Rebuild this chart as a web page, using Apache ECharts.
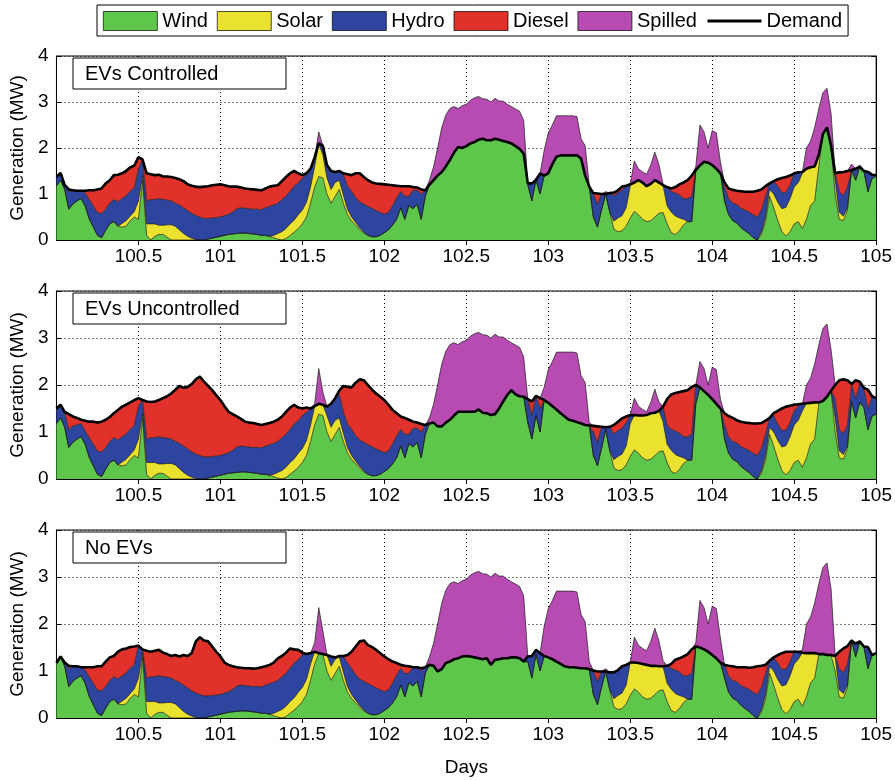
<!DOCTYPE html>
<html>
<head>
<meta charset="utf-8">
<script src="https://cdn.jsdelivr.net/npm/echarts@6/dist/echarts.min.js"></script>
<style>
html, body { margin: 0; padding: 0; background: #fff; }
#chart { width: 895px; height: 780px; }
</style>
</head>
<body>
<div id="chart"></div>
<script>
// Sampling grid: day 100.000 to 105.000 every 0.025 day (201 samples)
const DAY_START = 100;
const DAY_STEP = 0.025;

// Available wind generation (MW)
const wind = [
1.18,1.3,1.1,0.67,0.78,0.85,0.9,0.74,0.46,0.28,0.1,0.05,0.21,0.35,0.4,0.3,0.28,0.3,0.42,0.5,
0.45,1.3,0.1,0,0.08,0.12,0.12,0.06,0,0,0,0,0,0,0,0,0,0.02,0.04,0.06,
0.08,0.1,0.12,0.13,0.14,0.15,0.15,0.14,0.13,0.12,0.1,0.1,0.08,0.05,0.02,0,0.03,0.1,0.17,0.25,
0.35,0.5,0.8,1.15,1.38,1.35,1.0,0.8,0.95,1.1,0.8,0.55,0.42,0.32,0.22,0.15,0.1,0.07,0.07,0.1,
0.16,0.22,0.32,0.45,0.7,0.45,0.75,0.68,0.78,0.45,0.95,1.3,1.59,2.0,2.44,2.72,2.86,2.9,2.86,2.92,
2.95,3.04,3.09,3.12,3.07,3.06,3.0,3.08,3.02,3.02,2.95,2.9,2.85,2.8,2.6,1.2,0.85,1.35,1.0,1.95,
2.33,2.5,2.7,2.7,2.7,2.7,2.7,2.68,2.2,2.05,1.2,0.5,0.28,0.65,1.05,0.6,0.24,0.18,0.2,0.3,
0.48,0.62,0.55,0.45,0.4,0.42,0.5,0.58,0.6,0.35,0.16,0.12,0.2,0.33,0.4,0.4,1.6,2.5,2.35,2.0,
2.38,2.33,1.7,0.85,0.55,0.42,0.37,0.27,0.2,0.14,0.05,0,0.12,0.4,0.95,0.7,0.42,0.18,0.09,0.18,
0.35,0.4,0.25,0.45,0.75,0.85,1.6,2.3,2.5,2.0,1.0,0.45,0.42,0.65,1.65,1.3,1.63,1.52,1.05,1.34,
1.38
];

// Available solar generation (MW)
const solar = [
0,0,0,0,0,0,0,0,0,0,0,0,0,0,0,0,0.08,0.12,0.1,0.12,
0.4,0.1,0.25,0.35,0.27,0.2,0.2,0.27,0.33,0.3,0.22,0.14,0.08,0.04,0.01,0,0,0,0,0,
0,0,0,0,0,0,0,0,0,0,0,0,0,0.05,0.12,0.18,0.22,0.25,0.26,0.3,
0.3,0.32,0.35,0.45,0.97,0.5,0.35,0.3,0.3,0.2,0.18,0.12,0.08,0.06,0.04,0.02,0,0,0,0,
0,0,0,0,0,0,0,0,0,0,0,0,0,0,0,0,0,0,0,0,
0,0,0,0,0,0,0,0,0,0,0,0,0,0,0,0,0,0,0,0,
0,0,0,0,0,0,0,0,0,0,0,0,0,0,0,0,0.17,0.3,0.33,0.4,
0.7,1.1,1.0,1.03,1.03,1.21,1.41,1.06,0.62,0.39,0.45,0.4,0.28,0.12,0,0,0,0,0,0,
0,0,0,0,0,0,0,0,0,0,0,0,0.05,0.1,0.15,0.3,0.4,0.5,0.62,0.72,
0.8,0.85,1.2,1.55,1.4,1.6,1.25,0.9,0.8,0.75,0.3,0.15,0.1,0.05,0,0,0,0,0,0,
0
];

// Available hydro generation (MW)
const hydro = [
0.3,0.3,0.32,0.38,0.35,0.3,0.28,0.28,0.42,0.46,0.5,0.52,0.46,0.45,0.48,0.53,0.54,0.54,0.54,0.52,
0.7,0.4,0.5,0.53,0.53,0.58,0.56,0.54,0.52,0.5,0.54,0.56,0.56,0.54,0.52,0.5,0.47,0.45,0.44,0.43,
0.42,0.43,0.44,0.48,0.54,0.55,0.54,0.54,0.54,0.55,0.56,0.6,0.65,0.66,0.66,0.7,0.7,0.71,0.74,0.69,
0.7,0.6,0.5,0.5,0.5,0.5,0.5,0.5,0.5,0.5,0.45,0.5,0.56,0.54,0.57,0.61,0.63,0.62,0.57,0.5,
0.4,0.38,0.42,0.47,0.35,0.5,0.2,0.4,0.3,0.55,0.2,0.5,0.5,0.5,0.5,0.5,0.5,0.5,0.5,0.5,
0.5,0.5,0.5,0.5,0.5,0.5,0.5,0.5,0.5,0.5,0.5,0.5,0.5,0.5,0.5,0.5,0.5,0.5,0.5,0.5,
0.5,0.5,0.5,0.5,0.5,0.5,0.5,0.5,0.5,0.5,0.5,0.5,0.5,0.45,0.4,0.5,0.55,0.55,0.55,0.5,
0.5,0.45,0.45,0.45,0.45,0.45,0.45,0.45,0.45,0.4,0.45,0.5,0.5,0.45,0.5,0.55,0.5,0.5,0.5,0.5,
0.5,0.5,0.5,0.3,0.35,0.38,0.4,0.42,0.45,0.47,0.5,0.5,0.48,0.45,0.35,0.35,0.35,0.35,0.33,0.3,
0.3,0.3,0.35,0.35,0.35,0.35,0.35,0.35,0.35,0.35,0.4,0.45,0.45,0.45,0.4,0.4,0.4,0.4,0.45,0.4,
0.4
];

// Demand (MW) in each scenario
const demandControlled = [
1.37,1.46,1.2,1.1,1.08,1.07,1.07,1.07,1.08,1.08,1.1,1.12,1.23,1.3,1.41,1.42,1.45,1.5,1.58,1.62,
1.8,1.75,1.45,1.43,1.41,1.42,1.38,1.38,1.37,1.35,1.32,1.28,1.21,1.18,1.16,1.15,1.16,1.17,1.19,1.2,
1.21,1.19,1.17,1.16,1.16,1.14,1.12,1.11,1.1,1.09,1.08,1.12,1.16,1.18,1.19,1.28,1.37,1.45,1.5,1.45,
1.41,1.45,1.55,1.8,2.1,2.05,1.63,1.5,1.48,1.5,1.45,1.43,1.41,1.45,1.45,1.37,1.3,1.25,1.23,1.22,
1.21,1.2,1.19,1.18,1.17,1.17,1.17,1.15,1.14,1.1,1.08,1.2,1.3,1.4,1.48,1.6,1.74,1.9,2.02,2.0,
2.04,2.1,2.13,2.18,2.2,2.17,2.17,2.2,2.18,2.15,2.13,2.1,2.04,1.98,1.88,1.23,1.23,1.3,1.45,1.4,
1.45,1.65,1.81,1.84,1.84,1.84,1.84,1.84,1.77,1.4,1.16,1.02,1.01,1.0,1.0,1.02,1.03,1.08,1.16,1.18,
1.21,1.25,1.3,1.25,1.17,1.22,1.3,1.25,1.19,1.15,1.12,1.15,1.21,1.25,1.3,1.4,1.52,1.62,1.7,1.68,
1.63,1.55,1.45,1.25,1.12,1.09,1.07,1.06,1.05,1.05,1.05,1.07,1.1,1.17,1.23,1.28,1.32,1.35,1.37,1.4,
1.45,1.47,1.48,1.55,1.58,1.6,1.85,2.3,2.45,2.05,1.45,1.47,1.48,1.5,1.52,1.55,1.59,1.5,1.48,1.42,
1.41
];

const demandUncontrolled = [
1.5,1.58,1.43,1.38,1.33,1.3,1.26,1.24,1.22,1.22,1.2,1.22,1.26,1.32,1.4,1.47,1.54,1.58,1.63,1.68,
1.72,1.68,1.65,1.64,1.65,1.68,1.72,1.76,1.82,1.9,1.98,1.94,1.96,2.02,2.12,2.18,2.07,1.98,1.89,1.78,
1.68,1.55,1.43,1.38,1.33,1.28,1.22,1.2,1.19,1.17,1.15,1.17,1.19,1.22,1.26,1.33,1.43,1.52,1.58,1.52,
1.5,1.52,1.5,1.55,1.6,1.58,1.54,1.6,1.72,1.88,1.98,1.96,1.95,2.05,2.12,2.1,2.0,1.9,1.82,1.75,
1.68,1.58,1.47,1.4,1.33,1.3,1.26,1.22,1.2,1.17,1.15,1.18,1.2,1.12,1.12,1.2,1.26,1.35,1.43,1.43,
1.43,1.43,1.43,1.48,1.41,1.4,1.36,1.38,1.5,1.65,1.79,1.89,1.8,1.76,1.75,1.7,1.65,1.77,1.72,1.68,
1.62,1.55,1.48,1.4,1.33,1.26,1.24,1.21,1.18,1.15,1.14,1.13,1.12,1.11,1.1,1.11,1.15,1.22,1.29,1.33,
1.36,1.36,1.35,1.35,1.36,1.4,1.41,1.45,1.54,1.7,1.8,1.83,1.85,1.87,1.89,1.96,2.0,1.95,1.87,1.79,
1.7,1.6,1.5,1.4,1.34,1.3,1.25,1.22,1.2,1.19,1.18,1.18,1.19,1.24,1.3,1.4,1.45,1.5,1.54,1.56,
1.58,1.59,1.6,1.61,1.62,1.63,1.63,1.66,1.75,1.88,2.0,2.1,2.12,2.1,2.02,2.1,2.07,1.94,1.9,1.76,
1.72
];

const demandNoEVs = [
1.17,1.31,1.18,1.11,1.1,1.1,1.08,1.08,1.08,1.08,1.1,1.1,1.2,1.29,1.32,1.41,1.46,1.48,1.51,1.52,
1.54,1.46,1.43,1.41,1.43,1.45,1.39,1.36,1.32,1.34,1.31,1.34,1.32,1.38,1.63,1.72,1.65,1.63,1.52,1.41,
1.31,1.18,1.13,1.1,1.08,1.07,1.06,1.06,1.05,1.06,1.08,1.1,1.13,1.18,1.27,1.32,1.39,1.48,1.46,1.45,
1.39,1.36,1.38,1.41,1.38,1.36,1.34,1.31,1.29,1.32,1.32,1.34,1.41,1.52,1.63,1.65,1.55,1.51,1.45,1.38,
1.31,1.25,1.2,1.17,1.13,1.11,1.1,1.08,1.08,1.06,1.08,1.13,1.11,0.99,1.04,1.17,1.2,1.25,1.27,1.31,
1.32,1.31,1.29,1.27,1.25,1.27,1.13,1.24,1.25,1.27,1.27,1.29,1.29,1.27,1.2,1.31,1.32,1.45,1.38,1.32,
1.29,1.25,1.2,1.15,1.1,1.08,1.08,1.07,1.06,1.06,1.04,1.01,0.99,0.99,0.99,0.97,0.97,1.02,1.1,1.13,
1.18,1.18,1.17,1.15,1.13,1.11,1.11,1.1,1.1,1.11,1.15,1.24,1.27,1.31,1.36,1.46,1.52,1.5,1.46,1.41,
1.34,1.27,1.18,1.13,1.11,1.1,1.08,1.08,1.08,1.07,1.08,1.1,1.11,1.13,1.22,1.29,1.34,1.38,1.41,1.41,
1.41,1.41,1.39,1.38,1.38,1.38,1.36,1.36,1.34,1.34,1.32,1.41,1.48,1.53,1.65,1.58,1.63,1.52,1.51,1.34,
1.38
];

const panelTitles = ['EVs Controlled', 'EVs Uncontrolled', 'No EVs'];
const panelDemand = [demandControlled, demandUncontrolled, demandNoEVs];
const tickDays = [100.5, 101, 101.5, 102, 102.5, 103, 103.5, 104, 104.5, 105];
const yTicks = [0, 1, 2, 3, 4];

const sourceNames = ['Wind', 'Solar', 'Hydro', 'Diesel', 'Spilled'];
const sourceColors = ['#5ec64b', '#ebe22f', '#2e459f', '#e0322a', '#b74bb1'];
const FONT = '"Liberation Sans", Arial, Helvetica, sans-serif';

const days = wind.map((_, i) => String(+(DAY_START + DAY_STEP * i).toFixed(3)));
const tickIndex = new Set(tickDays.map(d => Math.round((d - DAY_START) / DAY_STEP)));
const lastIndex = days.length - 1;
const isTick = (idx) => tickIndex.has(idx);
const isGridLine = (idx) => tickIndex.has(idx) && idx !== lastIndex;

// Split a demand profile into the merit-order layers that are stacked in each panel
function dispatch(demand) {
  const layers = [[], [], [], [], []];
  const r = v => Math.round(v * 1000) / 1000;
  demand.forEach((d, i) => {
    const w = Math.min(wind[i], d);
    const s = Math.min(solar[i], d - w);
    const h = Math.min(hydro[i], d - w - s);
    const g = Math.max(0, d - w - s - h);
    const spill = Math.max(0, wind[i] + solar[i] - w - s);
    layers[0].push(r(w));
    layers[1].push(r(s));
    layers[2].push(r(h));
    layers[3].push(r(g));
    layers[4].push(r(spill));
  });
  return layers;
}

const grids = [
  { left: 52, right: 18, top: 56, height: 184 },
  { left: 52, right: 18, top: 291, height: 188 },
  { left: 52, right: 18, top: 530, height: 188 }
];

const xAxes = [], yAxes = [], series = [], graphics = [];

grids.forEach((g, p) => {
  g.show = true;
  g.borderColor = '#000';
  g.borderWidth = 1;

  xAxes.push({
    gridIndex: p, type: 'category', data: days, boundaryGap: false, position: 'bottom',
    axisLine: { lineStyle: { color: '#000', width: 1 } },
    axisTick: { inside: true, length: 5, interval: isTick, lineStyle: { color: '#000' } },
    axisLabel: { interval: isTick, color: '#000', fontSize: 19, fontFamily: FONT, margin: 7 },
    splitLine: { show: true, interval: isGridLine, lineStyle: { color: '#000', width: 1, type: [1, 3] } },
    name: p === 2 ? 'Days' : '', nameLocation: 'middle', nameGap: 40,
    nameTextStyle: { color: '#000', fontSize: 19, fontFamily: FONT }
  });
  xAxes.push({
    gridIndex: p, type: 'category', data: days, boundaryGap: false, position: 'top',
    axisLine: { lineStyle: { color: '#000', width: 1 } },
    axisTick: { inside: true, length: 5, interval: isTick, lineStyle: { color: '#000' } },
    axisLabel: { show: false }, splitLine: { show: false }
  });
  yAxes.push({
    gridIndex: p, type: 'value', min: 0, max: 4, interval: 1, position: 'left',
    axisLine: { show: true, lineStyle: { color: '#000', width: 1 } },
    axisTick: { show: true, inside: true, length: 5, lineStyle: { color: '#000' } },
    axisLabel: { color: '#000', fontSize: 19, fontFamily: FONT, margin: 8,
      formatter: v => yTicks.includes(v) ? String(v) : '' },
    splitLine: { show: true, lineStyle: { color: '#000', width: 1, type: [1, 3] } },
    name: 'Generation (MW)', nameLocation: 'middle', nameGap: 24,
    nameTextStyle: { color: '#000', fontSize: 19, fontFamily: FONT }
  });
  yAxes.push({
    gridIndex: p, type: 'value', min: 0, max: 4, interval: 1, position: 'right',
    axisLine: { show: true, lineStyle: { color: '#000', width: 1 } },
    axisTick: { show: true, inside: true, length: 5, lineStyle: { color: '#000' } },
    axisLabel: { show: false }, splitLine: { show: false }
  });

  const layers = dispatch(panelDemand[p]);
  layers.forEach((vals, k) => {
    series.push({
      name: sourceNames[k], type: 'line', xAxisIndex: 2 * p, yAxisIndex: 2 * p,
      stack: 'gen' + p, data: vals, symbol: 'none', smooth: false,
      color: sourceColors[k],
      lineStyle: { color: '#1a1a1a', width: 0.7 },
      areaStyle: { color: sourceColors[k], opacity: 1 },
      z: 2, silent: true
    });
  });
  series.push({
    name: 'Demand', type: 'line', xAxisIndex: 2 * p, yAxisIndex: 2 * p,
    data: panelDemand[p], symbol: 'none', color: '#000',
    lineStyle: { color: '#000', width: 2.6 }, z: 5, silent: true
  });

  // Scenario label box in the upper-left corner of each panel
  const boxTop = g.top + 2;
  graphics.push({
    type: 'rect', z: 100,
    shape: { x: 73, y: boxTop, width: 213, height: 31 },
    style: { fill: '#fff', stroke: '#000', lineWidth: 1 }
  });
  graphics.push({
    type: 'text', z: 101, x: 85, y: boxTop + 16,
    style: { text: panelTitles[p], font: '20px ' + FONT, fill: '#000', verticalAlign: 'middle' }
  });
});

const legendData = sourceNames.map((n, k) => ({
  name: n, icon: 'rect',
  itemStyle: { color: sourceColors[k], borderColor: '#000', borderWidth: 0.7 }
}));
legendData.push({ name: 'Demand', itemStyle: { opacity: 0 }, lineStyle: { color: '#000', width: 3 } });

const chart = echarts.init(document.getElementById('chart'), null, { renderer: 'canvas' });
chart.setOption({
  animation: false,
  backgroundColor: '#fff',
  textStyle: { fontFamily: FONT },
  legend: {
    data: legendData, left: 97, top: 5, orient: 'horizontal',
    itemWidth: 54, itemHeight: 19, itemGap: 9,
    padding: [6, 6, 5, 6], borderColor: '#000', borderWidth: 1,
    textStyle: { color: '#000', fontSize: 20, fontFamily: FONT },
    selectedMode: false
  },
  grid: grids,
  xAxis: xAxes,
  yAxis: yAxes,
  series: series,
  graphic: graphics
});
</script>
</body>
</html>
